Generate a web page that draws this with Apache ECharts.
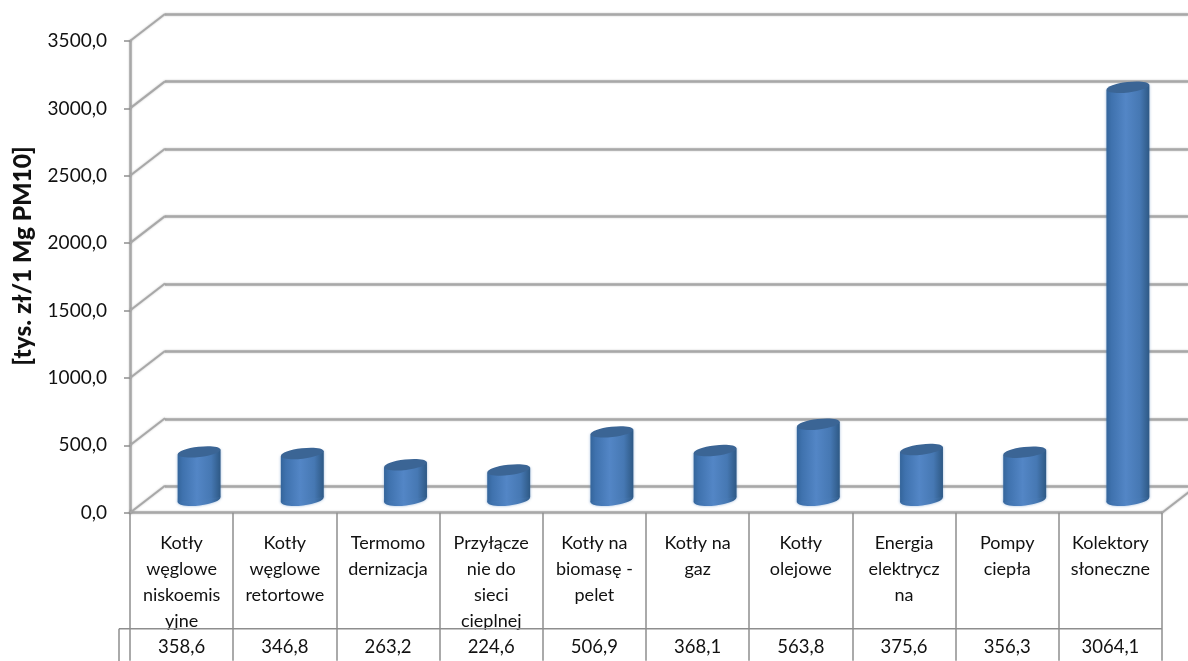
<!DOCTYPE html>
<html><head><meta charset="utf-8">
<style>html,body{margin:0;padding:0;background:#fff}#c{width:1188px;height:661px}</style>
<script src="https://cdn.jsdelivr.net/npm/echarts@6/dist/echarts.min.js"></script>
</head><body><div id="c"></div>
<script>
const categories = ["Kotły\nwęglowe\nniskoemis\nyjne","Kotły\nwęglowe\nretortowe","Termomo\ndernizacja","Przyłącze\nnie do\nsieci\ncieplnej","Kotły na\nbiomasę -\npelet","Kotły na\ngaz","Kotły\nolejowe","Energia\nelektrycz\nna","Pompy\nciepła","Kolektory\nsłoneczne"];
const values = [358.6,346.8,263.2,224.6,506.9,368.1,563.8,375.6,356.3,3064.1];
const valueLabels = ["358,6","346,8","263,2","224,6","506,9","368,1","563,8","375,6","356,3","3064,1"];
const yTicks = [0,500,1000,1500,2000,2500,3000,3500];
const yTitle = "[tys. zł/1 Mg PM10]";

const DX = 35, DY = 27;
const wall = '#a8a8a8', table = '#8e8e8e';
const soft = {shadowBlur:2,shadowColor:'rgba(120,120,120,0.45)'};
const font = 'Lato';
const chart = echarts.init(document.getElementById('c'), null, {renderer:'canvas'});

function barItem(params, api){
  const i = api.value(0), v = api.value(1);
  const p0 = api.coord([i,0]), p1 = api.coord([i,v]);
  const cx = p0[0] + DX/2, by = p0[1] - DY/2 + 0.5, ty = p1[1] - DY/2 + 1;
  const rx = api.size([1,0])[0]*0.208, ry = 5.2, rot = 0.115, tilt = rx*Math.sin(rot);
  const grad = new echarts.graphic.LinearGradient(0,0,1,0,[
    {offset:0,color:'#34659b'},{offset:0.12,color:'#3f72ae'},
    {offset:0.45,color:'#5386c6'},{offset:0.78,color:'#4678b3'},{offset:1,color:'#2e5985'}]);
  const halo = {shadowBlur:3,shadowColor:'rgba(79,129,189,0.55)'};
  return {type:'group',children:[
    {type:'ellipse',x:cx,y:by,rotation:rot,shape:{cx:0,cy:0,rx:rx,ry:ry+0.6},style:Object.assign({fill:grad},halo)},
    {type:'polygon',shape:{points:[[cx-rx,by+tilt],[cx+rx,by-tilt],[cx+rx,ty-tilt],[cx-rx,ty+tilt]]},style:Object.assign({fill:grad},halo)},
    {type:'ellipse',x:cx,y:ty,rotation:rot,shape:{cx:0,cy:0,rx:rx,ry:ry},style:{fill:'#3b6595'}}
  ]};
}
function slantItem(params, api){
  const p = api.coord([0,api.value(1)]);
  const x = params.coordSys.x;
  return {type:'line',shape:{x1:x,y1:p[1],x2:x+DX,y2:p[1]-DY},style:Object.assign({stroke:wall,lineWidth:2},soft)};
}
function frameItem(params, api){
  const cs = params.coordSys, y0 = cs.y+cs.height, rowY = y0+116;
  return {type:'group',children:[
    {type:'line',shape:{x1:cs.x+cs.width,y1:y0,x2:cs.x+cs.width+DX,y2:y0-DY},style:Object.assign({stroke:wall,lineWidth:2},soft)},
    {type:'line',shape:{x1:cs.x-11,y1:rowY,x2:cs.x+cs.width,y2:rowY},style:{stroke:table,lineWidth:1.5}},
    {type:'line',shape:{x1:cs.x-11,y1:rowY,x2:cs.x-11,y2:rowY+40},style:{stroke:table,lineWidth:1.5}}
  ]};
}
chart.setOption({
  animation:false,
  backgroundColor:'#fff',
  grid:[
    {left:130,width:1032,top:41,height:471.7},
    {left:130+DX,width:1032,top:41-DY,height:472.5}
  ],
  xAxis:[
    {type:'category',gridIndex:0,data:categories,boundaryGap:true,
     axisLine:{lineStyle:Object.assign({color:wall,width:2.5},soft)},
     axisTick:{show:true,length:148,lineStyle:{color:table,width:1.5}},
     axisLabel:{interval:0,margin:17,fontFamily:font,fontSize:18,lineHeight:26,color:'#111',align:'center'},
     splitLine:{show:false}},
    {type:'category',gridIndex:0,position:'bottom',offset:116,data:valueLabels,
     axisLine:{show:false},axisTick:{show:false},
     axisLabel:{interval:0,margin:9,fontFamily:font,fontSize:18.5,color:'#111'}},
    {type:'category',gridIndex:1,data:categories,axisLine:{show:false},axisTick:{show:false},axisLabel:{show:false}}
  ],
  yAxis:[
    {type:'value',gridIndex:0,min:0,max:3500,interval:500,
     axisLine:{show:true,lineStyle:Object.assign({color:wall,width:2.5},soft)},
     axisTick:{show:true,length:6,lineStyle:{color:table,width:1.5}},
     axisLabel:{margin:23,fontFamily:font,fontSize:19,color:'#111',
       formatter:v=>v.toFixed(1).replace('.',',')},
     splitLine:{show:false}},
    {type:'value',gridIndex:1,min:0,max:3500,interval:500,
     axisLine:{show:false},axisTick:{show:false},axisLabel:{show:false},
     splitLine:{show:true,lineStyle:Object.assign({color:wall,width:2.5},soft)}}
  ],
  graphic:[{type:'text',x:23,y:256,rotation:Math.PI/2,
    style:{text:yTitle,font:'900 24.5px Lato',fill:'#111',textAlign:'center',textVerticalAlign:'middle'}}],
  series:[
    {type:'custom',name:'slant',xAxisIndex:0,yAxisIndex:0,z:1,silent:true,
     data:yTicks.map(v=>[0,v]),renderItem:slantItem,clip:false},
    {type:'custom',name:'frame',xAxisIndex:0,yAxisIndex:0,z:1,silent:true,
     data:[[0,0]],renderItem:frameItem,clip:false},
    {type:'custom',name:'PM10',xAxisIndex:0,yAxisIndex:0,z:3,
     data:values.map((v,i)=>[i,v]),renderItem:barItem,clip:false}
  ]
});
</script></body></html>
